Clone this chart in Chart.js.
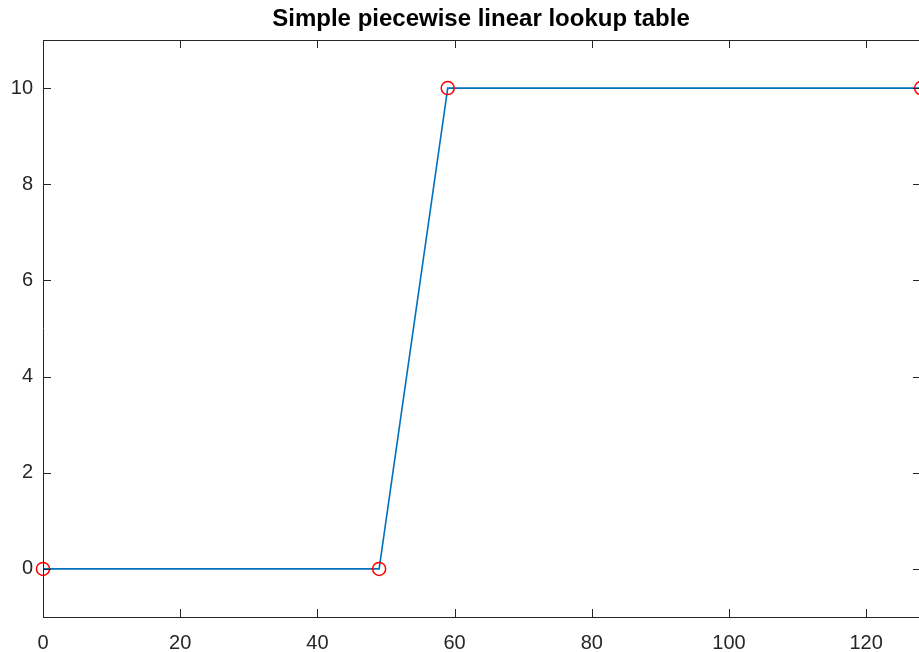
<!DOCTYPE html>
<html>
<head>
<meta charset="utf-8">
<style>
  html, body { margin: 0; padding: 0; background: #fff; overflow: hidden; }
  #wrap { width: 919px; height: 652px; }
</style>
<script src="https://cdn.jsdelivr.net/npm/chart.js@4.4.1/dist/chart.umd.min.js"></script>
</head>
<body>
<div id="wrap"><canvas id="lutChart" width="919" height="652"></canvas></div>
<script>
// --- data ---
const breakX = [0, 49, 59, 128];
const breakY = [0, 0, 10, 10];
const xTicks = [0, 20, 40, 60, 80, 100, 120];
const yTicks = [0, 2, 4, 6, 8, 10];
// the original figure is cut just before its right border (x = 128)
const xRange = [0, 127.7];
const yRange = [-1, 11];

const axisColor = '#262626';
const fontFamily = '"Liberation Sans", Arial, Helvetica, sans-serif';

// matlab style box with inward ticks (right border falls outside the picture)
const boxPlugin = {
    id: 'boxPlugin',
    afterDatasetsDraw(chart) {
        const { ctx, chartArea: a, scales } = chart;
        const len = 8;
        ctx.save();
        ctx.strokeStyle = axisColor;
        ctx.lineWidth = 1;
        ctx.beginPath();
        ctx.moveTo(a.left, a.bottom + 0.5);
        ctx.lineTo(a.right, a.bottom + 0.5);
        ctx.moveTo(a.left + 0.5, a.top);
        ctx.lineTo(a.left + 0.5, a.bottom);
        ctx.moveTo(a.left, a.top + 0.5);
        ctx.lineTo(a.right, a.top + 0.5);
        scales.x.ticks.forEach(t => {
            const px = Math.round(scales.x.getPixelForValue(t.value)) + 0.5;
            ctx.moveTo(px, a.bottom);
            ctx.lineTo(px, a.bottom - len);
            ctx.moveTo(px, a.top);
            ctx.lineTo(px, a.top + len);
        });
        const rightEdge = scales.x.getPixelForValue(128);
        scales.y.ticks.forEach(t => {
            const py = Math.round(scales.y.getPixelForValue(t.value)) + 0.5;
            ctx.moveTo(a.left, py);
            ctx.lineTo(a.left + len, py);
            ctx.moveTo(rightEdge, py);
            ctx.lineTo(rightEdge - len, py);
        });
        ctx.stroke();
        ctx.restore();
    }
};

new Chart(document.getElementById('lutChart'), {
    type: 'scatter',
    data: {
        datasets: [{
            data: breakX.map((x, i) => ({ x: x, y: breakY[i] })),
            showLine: true,
            borderColor: '#0072BD',
            borderWidth: 1.6,
            pointRadius: 6.5,
            pointBorderColor: '#FF0000',
            pointBackgroundColor: 'rgba(0,0,0,0)',
            pointBorderWidth: 1.5,
            clip: false
        }]
    },
    options: {
        responsive: false,
        animation: false,
        layout: { autoPadding: false, padding: { left: 0, right: 0, top: 0, bottom: 0 } },
        scales: {
            x: {
                type: 'linear',
                min: xRange[0],
                max: xRange[1],
                afterBuildTicks: s => { s.ticks = xTicks.map(v => ({ value: v })); },
                afterFit: s => { s.height = 35; s.paddingLeft = 0; s.paddingRight = 0; },
                grid: { display: false, drawTicks: false, tickLength: 0 },
                border: { display: false },
                ticks: {
                    color: axisColor,
                    padding: 14,
                    maxRotation: 0,
                    font: { family: fontFamily, size: 20 }
                }
            },
            y: {
                type: 'linear',
                min: yRange[0],
                max: yRange[1],
                afterBuildTicks: s => { s.ticks = yTicks.map(v => ({ value: v })); },
                afterFit: s => { s.width = 43; s.paddingTop = 0; s.paddingBottom = 0; },
                grid: { display: false, drawTicks: false, tickLength: 0 },
                border: { display: false },
                ticks: {
                    color: axisColor,
                    padding: 10,
                    font: { family: fontFamily, size: 20 }
                }
            }
        },
        plugins: {
            legend: { display: false },
            tooltip: { enabled: false },
            title: {
                display: true,
                text: 'Simple piecewise linear lookup table',
                fullSize: false,
                color: '#000',
                font: { family: fontFamily, size: 24, weight: 'bold', lineHeight: 1.2 },
                padding: { top: 5, bottom: 6.2 }
            }
        }
    },
    plugins: [boxPlugin]
});
</script>
</body>
</html>
